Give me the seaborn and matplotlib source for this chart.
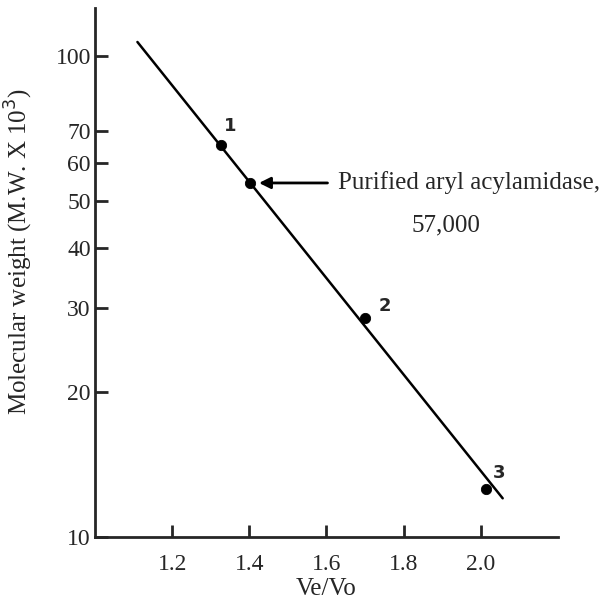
import numpy as np
import pandas as pd
import matplotlib
matplotlib.use("Agg")
import matplotlib.pyplot as plt
import seaborn as sns

# standards and sample
ve_vo = [1.327, 1.403, 1.699, 2.013]
mol_weight = [65.3, 54.5, 28.5, 12.6]
point_labels = ["1", "", "2", "3"]

# fitted calibration line (end points)
line_ve_vo = [1.11, 2.057]
line_mw = [107.0, 12.05]

x_ticks = [1.2, 1.4, 1.6, 1.8, 2.0]
y_ticks = [10, 20, 30, 40, 50, 60, 70, 100]

sns.set_style("ticks")
plt.rcParams["font.family"] = ["Liberation Serif", "DejaVu Serif"]

pontos = pd.DataFrame({"ve_vo": ve_vo, "mw": mol_weight})
linha = pd.DataFrame({"ve_vo": line_ve_vo, "mw": line_mw})

fig = plt.figure(figsize=(6.09, 6.03), dpi=100)
ax = fig.add_axes([0.156, 0.109, 0.76, 0.878])

sns.lineplot(data=linha, x="ve_vo", y="mw", color="black", linewidth=1.8, ax=ax)
sns.scatterplot(data=pontos, x="ve_vo", y="mw", color="black", s=55,
                edgecolor="black", zorder=3, ax=ax)

ax.set_yscale("log")
ax.set_xlim(1.0, 2.2)
ax.set_ylim(10, 126)
ax.set_xticks(x_ticks)
ax.set_xticklabels([f"{v:.1f}" for v in x_ticks])
ax.set_yticks(y_ticks)
ax.set_yticklabels([str(v) for v in y_ticks])
ax.yaxis.set_minor_locator(matplotlib.ticker.NullLocator())
ax.tick_params(axis="both", direction="in", length=9, width=2, labelsize=17, pad=3)
ax.tick_params(axis="x", pad=12)

sns.despine(ax=ax)
for lado in ["left", "bottom"]:
    ax.spines[lado].set_linewidth(2)

ax.set_xlabel("Ve/Vo", fontsize=18, labelpad=2)
ax.set_ylabel("Molecular weight (M.W. X 10$^3$)", fontsize=18)
ax.yaxis.set_label_coords(-0.13, 0.54)

offsets = {"1": (2, 10), "2": (10, 5), "3": (5, 8)}
for x, y, rotulo in zip(ve_vo, mol_weight, point_labels):
    if rotulo:
        ax.annotate(rotulo, (x, y), xytext=offsets[rotulo], textcoords="offset points",
                    fontsize=13, fontweight="bold", family="DejaVu Sans", ha="left")

ax.annotate("", xy=(ve_vo[1] + 0.015, mol_weight[1]), xytext=(1.61, mol_weight[1]),
            arrowprops=dict(arrowstyle="-|>", color="black", lw=2, mutation_scale=17))
ax.text(1.63, mol_weight[1], "Purified aryl acylamidase,", fontsize=18,
        va="center", ha="left")
ax.text(1.91, 44.5, "57,000", fontsize=18, va="center", ha="center")

plt.savefig("out.png", dpi=100)
